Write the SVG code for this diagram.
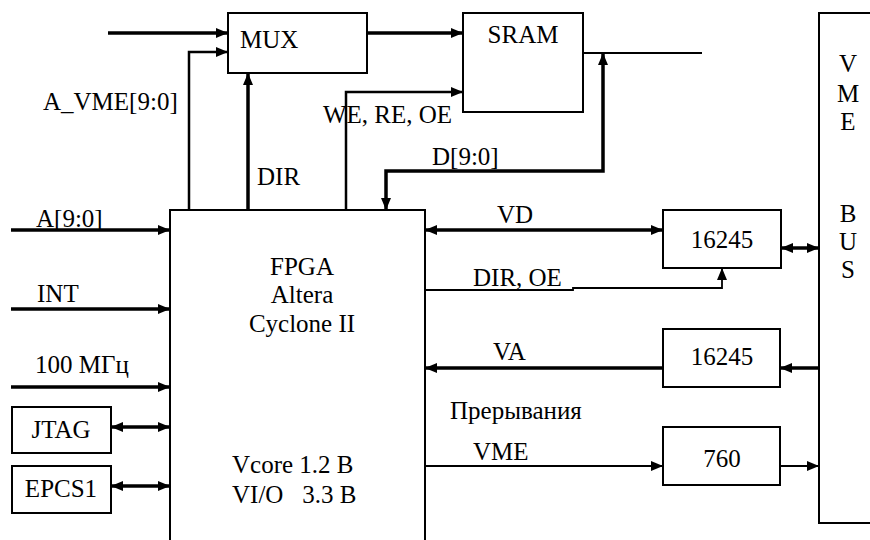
<svg xmlns="http://www.w3.org/2000/svg" width="870" height="540" viewBox="0 0 870 540">
<style>
text{font-size:25px;fill:#000}
.box{fill:#fff;stroke:#000;stroke-width:2}
.thick{fill:none;stroke:#000;stroke-width:3.5}
.mid{fill:none;stroke:#000;stroke-width:2.5}
.thin{fill:none;stroke:#000;stroke-width:1.8}
.a{marker-end:url(#ah)}
.b{marker-start:url(#ah);marker-end:url(#ah)}
.c{text-anchor:middle}
</style>
<defs>
<marker id="ah" viewBox="0 0 12 10" refX="12" refY="5" markerWidth="12" markerHeight="10" markerUnits="userSpaceOnUse" orient="auto-start-reverse">
<path d="M0,0 L12,5 L0,10 Z" fill="#000"/>
</marker>
</defs>
<rect width="870" height="540" fill="#fff"/>
<g id="connectors">
<path class="thick a" d="M108,33 H228"/>
<path class="mid a" d="M189,210 V52 H228"/>
<path class="thick a" d="M248,210 V73"/>
<path class="thick a" d="M367,33 H463"/>
<path class="mid a" d="M346,210 V92 H463"/>
<path class="thin" d="M583,53 H702"/>
<path class="thick b" d="M386,210 V171 H603 V53"/>
<path class="thick a" d="M11,230 H170"/>
<path class="thick a" d="M11,309 H170"/>
<path class="thick a" d="M11,387 H170"/>
<path class="thick b" d="M111,427 H170"/>
<path class="thick b" d="M111,486 H170"/>
<path class="thick b" d="M425,230 H663"/>
<path class="thick b" d="M781,248 H819"/>
<path class="thin a" d="M425,290 H573 V288 H722 V268"/>
<path class="thick a" d="M663,368 H425"/>
<path class="thick a" d="M819,368 H780"/>
<path class="thin a" d="M425,466 H663"/>
<path class="thin a" d="M780,466 H819"/>
</g>
<g font-family="'Liberation Serif', Tinos, 'Times New Roman', Times, 'Noto Serif', 'DejaVu Serif', serif">
<g id="mux"><rect class="box" x="228" y="13" width="139" height="60"/><text x="240" y="48">MUX</text></g>
<g id="sram"><rect class="box" x="463" y="13" width="120" height="99"/><text x="523" y="43" class="c">SRAM</text></g>
<g id="vmebus">
<path d="M870,13 H819 V523 H870" fill="none" stroke="#000" stroke-width="2"/>
<text x="848" y="72" class="c">V</text>
<text x="848" y="102" class="c">M</text>
<text x="848" y="130" class="c">E</text>
<text x="848" y="222" class="c">B</text>
<text x="848" y="250" class="c">U</text>
<text x="848" y="278" class="c">S</text>
</g>
<g id="fpga">
<path d="M170,545 V210 H425 V545" fill="#fff" stroke="#000" stroke-width="2"/>
<text x="302" y="275" class="c">FPGA</text>
<text x="302" y="303" class="c">Altera</text>
<text x="302" y="332" class="c">Cyclone II</text>
<text x="232" y="473">Vcore 1.2 В</text>
<text x="232" y="503" xml:space="preserve">VI/O   3.3 В</text>
</g>
<g id="buf1"><rect class="box" x="663" y="210" width="118" height="58"/><text x="722" y="248" class="c">16245</text></g>
<g id="buf2"><rect class="box" x="663" y="329" width="117" height="58"/><text x="722" y="365" class="c">16245</text></g>
<g id="ic760"><rect class="box" x="663" y="427" width="117" height="58"/><text x="722" y="467" class="c">760</text></g>
<g id="jtag"><rect class="box" x="12" y="407" width="99" height="46"/><text x="61" y="438" class="c">JTAG</text></g>
<g id="epcs1"><rect class="box" x="12" y="466" width="99" height="47"/><text x="61" y="497" class="c">EPCS1</text></g>
<g id="labels">
<text x="43" y="110">A_VME[9:0]</text>
<text x="257" y="185">DIR</text>
<text x="323" y="123">WE, RE, OE</text>
<text x="432" y="165">D[9:0]</text>
<text x="36" y="227">A[9:0]</text>
<text x="37" y="302">INT</text>
<text x="35" y="373">100 МГц</text>
<text x="497" y="223">VD</text>
<text x="473" y="286">DIR, OE</text>
<text x="493" y="360">VA</text>
<text x="450" y="419">Прерывания</text>
<text x="473" y="460">VME</text>
</g>
</g>
</svg>
